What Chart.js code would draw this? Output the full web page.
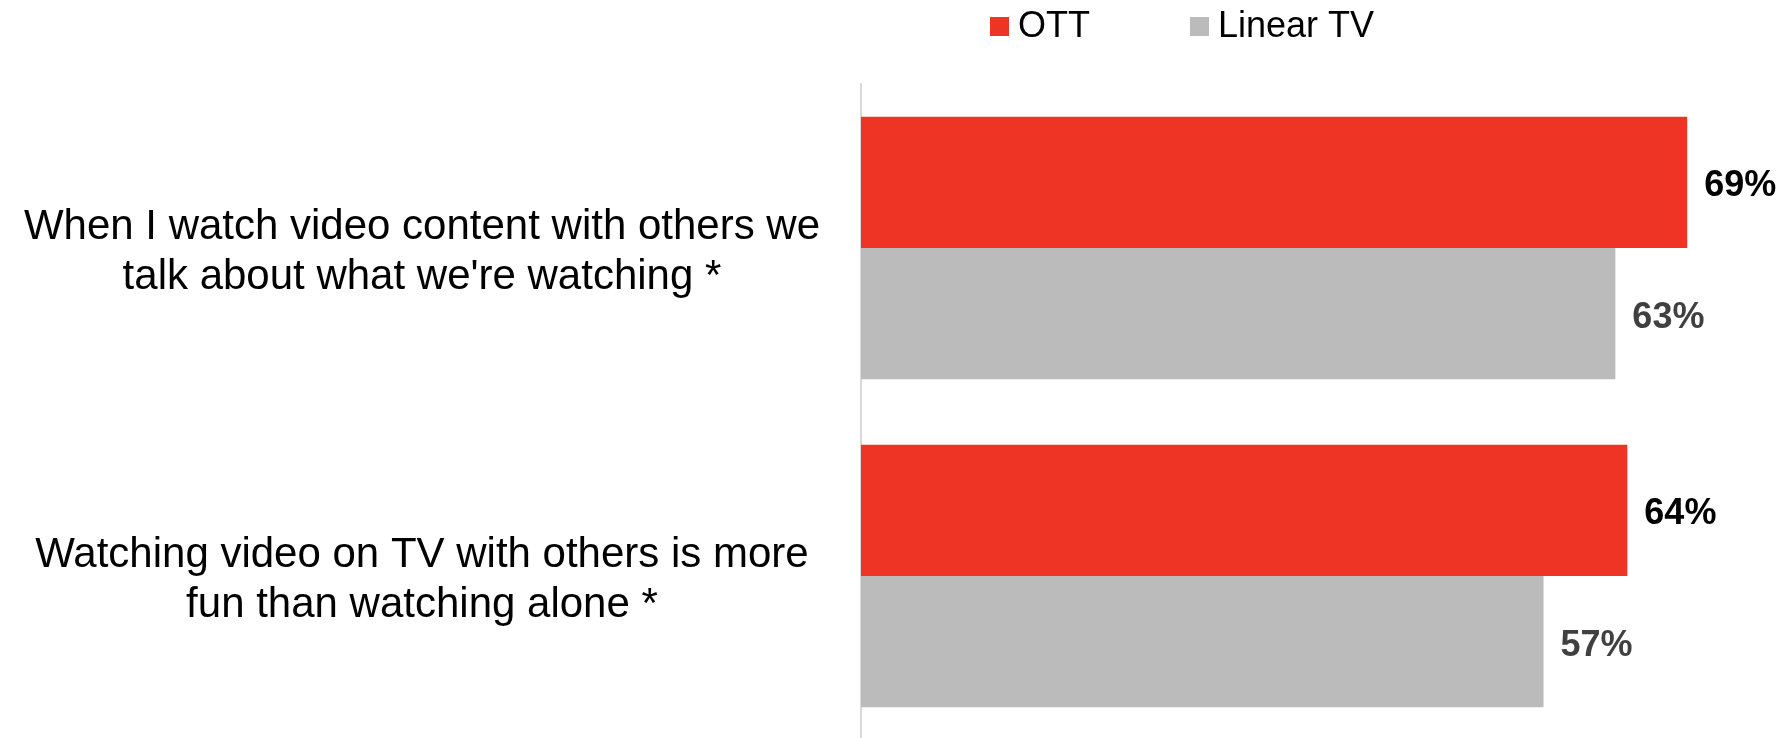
<!DOCTYPE html>
<html>
<head>
<meta charset="utf-8">
<script src="https://cdn.jsdelivr.net/npm/chart.js@4/dist/chart.umd.min.js"></script>
<style>
  html, body { margin: 0; padding: 0; background: #ffffff; overflow: hidden; }
  #wrap { width: 1788px; height: 738px; overflow: hidden; }
  canvas { display: block; }
</style>
</head>
<body>
<div id="wrap"><canvas id="chart" width="1788" height="742"></canvas></div>
<script>
// Survey statements (two-line category labels)
const categories = [
  ["When I watch video content with others we", "talk about what we're watching *"],
  ["Watching video on TV with others is more", "fun than watching alone *"]
];
const seriesNames = ["OTT", "Linear TV"];
const ottValues = [69, 64];
const linearTvValues = [63, 57];
const seriesColors = ["#EE3424", "#BBBBBB"];
const valueLabelColors = ["#000000", "#404040"];

const FONT = '"Liberation Sans", Arial, sans-serif';

// Percentage labels to the right of each bar
const valueLabels = {
  id: 'valueLabels',
  afterDatasetsDraw(chart) {
    const ctx = chart.ctx;
    ctx.save();
    ctx.font = 'bold 36px ' + FONT;
    ctx.textAlign = 'left';
    ctx.textBaseline = 'alphabetic';
    chart.data.datasets.forEach((ds, di) => {
      const meta = chart.getDatasetMeta(di);
      ctx.fillStyle = valueLabelColors[di];
      meta.data.forEach((bar, i) => {
        ctx.fillText(ds.data[i] + '%', bar.x + 17, bar.y + 14);
      });
    });
    ctx.restore();
  }
};

// Legend row at the top: small square swatch followed by the series name
const topLegend = {
  id: 'topLegend',
  afterDraw(chart) {
    const ctx = chart.ctx;
    const items = [{ x: 990 }, { x: 1190 }];
    ctx.save();
    ctx.font = '36px ' + FONT;
    ctx.textAlign = 'left';
    ctx.textBaseline = 'alphabetic';
    chart.data.datasets.forEach((ds, di) => {
      const x = items[di].x;
      ctx.fillStyle = ds.backgroundColor;
      ctx.fillRect(x, 17, 19, 19);
      ctx.fillStyle = '#000000';
      ctx.fillText(ds.label, x + 28, 37);
    });
    ctx.restore();
  }
};

new Chart(document.getElementById('chart'), {
  type: 'bar',
  data: {
    labels: categories,
    datasets: [
      {
        label: seriesNames[0],
        data: ottValues,
        backgroundColor: seriesColors[0],
        categoryPercentage: 0.8,
        barPercentage: 1.0
      },
      {
        label: seriesNames[1],
        data: linearTvValues,
        backgroundColor: seriesColors[1],
        categoryPercentage: 0.8,
        barPercentage: 1.0
      }
    ]
  },
  options: {
    indexAxis: 'y',
    responsive: false,
    animation: false,
    devicePixelRatio: 1,
    layout: { padding: { top: 84, bottom: 2, left: 0, right: 5 } },
    plugins: {
      legend: { display: false },
      tooltip: { enabled: false }
    },
    scales: {
      x: {
        min: 0,
        max: 77,
        display: false
      },
      y: {
        grid: { display: false, drawTicks: false },
        border: { display: true, color: '#D9D9D9', width: 2 },
        ticks: {
          crossAlign: 'center',
          padding: 41,
          labelOffset: 4,
          color: '#000000',
          font: { family: FONT, size: 42, lineHeight: 50 / 42 }
        },
        afterFit(scale) {
          // fixed label column; labels sit well inside the plot height
          scale.width = 861;
          scale.paddingTop = 0;
          scale.paddingBottom = 0;
        }
      }
    }
  },
  plugins: [valueLabels, topLegend]
});
</script>
</body>
</html>
